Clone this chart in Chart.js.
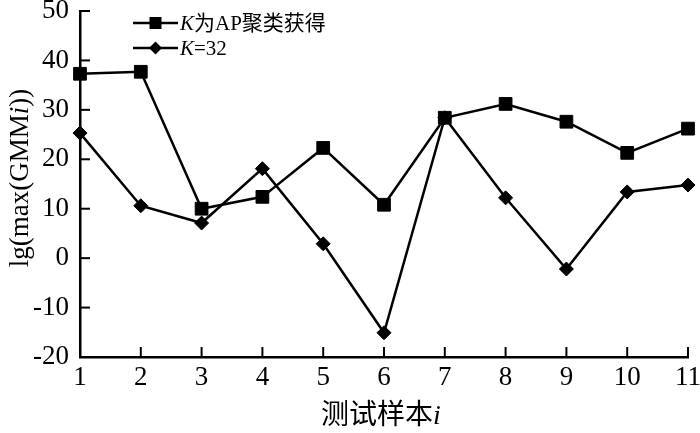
<!DOCTYPE html>
<html>
<head>
<meta charset="utf-8">
<script src="https://cdn.jsdelivr.net/npm/chart.js@4/dist/chart.umd.min.js"></script>
<style>
  html, body { margin: 0; padding: 0; background: #fff; }
  #wrap { width: 700px; height: 433px; }
</style>
</head>
<body>
<div id="wrap"><canvas id="chart" width="700" height="433"></canvas></div>
<script>
const samples = ["1", "2", "3", "4", "5", "6", "7", "8", "9", "10", "11"]
const kFromAP = [37.3, 37.7, 10.0, 12.4, 22.3, 10.8, 28.4, 31.2, 27.6, 21.3, 26.2]
const k32 = [25.3, 10.6, 7.1, 18.1, 2.9, -15.1, 28.4, 12.2, -2.2, 13.4, 14.8]
const yTicks = [-20, -10, 0, 10, 20, 30, 40, 50]

const serif = '"Liberation Serif", "Times New Roman", serif'
const cjk = '"Liberation Serif", "Noto Sans CJK SC", serif'

// draw a run of text pieces, some italic
function drawParts(ctx, parts, x, y, size, align) {
  let total = 0
  parts.forEach(p => {
    ctx.font = (p.italic ? "italic " : "") + size + "px " + cjk
    p.w = ctx.measureText(p.text).width
    total += p.w
  })
  let cx = align === "center" ? x - total / 2 : x
  parts.forEach(p => {
    ctx.font = (p.italic ? "italic " : "") + size + "px " + cjk
    ctx.fillText(p.text, cx, y)
    cx += p.w
  })
}

const decorations = {
  id: "decorations",
  afterDraw(chart) {
    const ctx = chart.ctx
    const area = chart.chartArea
    const xs = chart.scales.x
    const ys = chart.scales.y
    ctx.save()
    ctx.strokeStyle = "#000"
    ctx.lineWidth = 2
    // inward tick marks
    yTicks.forEach(v => {
      const py = ys.getPixelForValue(v)
      ctx.beginPath()
      ctx.moveTo(area.left, py)
      ctx.lineTo(area.left + 10, py)
      ctx.stroke()
    })
    samples.forEach((s, i) => {
      if (i === 0) return
      const px = xs.getPixelForValue(i)
      ctx.beginPath()
      ctx.moveTo(px, area.bottom)
      ctx.lineTo(px, area.bottom - 10)
      ctx.stroke()
    })

    ctx.fillStyle = "#000"
    ctx.textBaseline = "middle"
    // axis titles
    drawParts(ctx, [{ text: "测试样本" }, { text: "i", italic: true }], 381, 417, 28, "center")
    ctx.save()
    ctx.translate(21, 178)
    ctx.rotate(-Math.PI / 2)
    drawParts(ctx, [{ text: "lg(max(GMM" }, { text: "i", italic: true }, { text: "))" }], 0, 0, 27, "center")
    ctx.restore()

    // legend
    ctx.lineWidth = 2.5
    const rows = [
      { y: 23, style: "rect", parts: [{ text: "K", italic: true }, { text: "为AP聚类获得" }] },
      { y: 48, style: "rectRot", parts: [{ text: "K", italic: true }, { text: "=32" }] },
    ]
    rows.forEach(r => {
      ctx.beginPath()
      ctx.moveTo(133, r.y)
      ctx.lineTo(178, r.y)
      ctx.stroke()
      ctx.beginPath()
      if (r.style === "rect") {
        ctx.rect(149.5, r.y - 6, 12, 12)
      } else {
        ctx.moveTo(155.5, r.y - 6.5)
        ctx.lineTo(162, r.y)
        ctx.lineTo(155.5, r.y + 6.5)
        ctx.lineTo(149, r.y)
        ctx.closePath()
      }
      ctx.fill()
      drawParts(ctx, r.parts, 180, r.y + 1, 21, "left")
    })
    ctx.restore()
  },
}

function noPad(scale) {
  scale.paddingTop = 0
  scale.paddingBottom = 0
  scale.paddingLeft = 0
  scale.paddingRight = 0
}

new Chart(document.getElementById("chart"), {
  type: "line",
  data: {
    labels: samples,
    datasets: [
      {
        label: "K为AP聚类获得",
        data: kFromAP,
        borderColor: "#000",
        backgroundColor: "#000",
        borderWidth: 2.5,
        pointStyle: "rect",
        pointRadius: 9,
        pointBorderWidth: 1,
        tension: 0,
        clip: false,
      },
      {
        label: "K=32",
        data: k32,
        borderColor: "#000",
        backgroundColor: "#000",
        borderWidth: 2.5,
        pointStyle: "rectRot",
        pointRadius: 7,
        pointBorderWidth: 1,
        tension: 0,
        clip: false,
      },
    ],
  },
  options: {
    responsive: false,
    animation: false,
    layout: { padding: { left: 0, top: 11, right: 12, bottom: 0 } },
    plugins: {
      legend: { display: false },
      tooltip: { enabled: false },
    },
    scales: {
      x: {
        type: "category",
        offset: false,
        grid: { display: false, drawTicks: false },
        border: { display: true, color: "#000", width: 2.5 },
        ticks: {
          color: "#000",
          padding: 5,
          maxRotation: 0,
          autoSkip: false,
          font: { family: serif, size: 27 },
        },
        afterFit(scale) {
          scale.height = 76
          noPad(scale)
        },
      },
      y: {
        min: -20,
        max: 50,
        grid: { display: false, drawTicks: false },
        border: { display: true, color: "#000", width: 2.5 },
        ticks: {
          stepSize: 10,
          color: "#000",
          padding: 11,
          font: { family: serif, size: 27 },
        },
        afterFit(scale) {
          scale.width = 80
          noPad(scale)
        },
      },
    },
  },
  plugins: [decorations],
})
</script>
</body>
</html>
